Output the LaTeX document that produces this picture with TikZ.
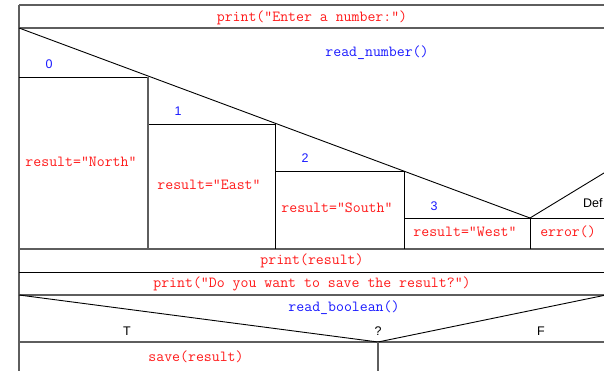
\documentclass[tikz,border=0pt]{standalone}
\usepackage{fontspec}
\setmainfont{Liberation Sans}
\newfontfamily\codefont{Latin Modern Mono}
\definecolor{frame}{HTML}{5E5E5E}
\definecolor{codered}{HTML}{FF1A1A}
\definecolor{codeblue}{HTML}{1A1AFF}
\tikzset{
  heavy/.style={draw=frame, line width=1.4pt},
  thin/.style={draw=black, line width=0.9pt},
  cmd/.style={font=\codefont\fontsize{15.4}{16}\selectfont, text=codered, inner sep=0pt, text height=0.68em, text depth=0.18em, yshift=-2pt},
  call/.style={cmd, text=codeblue},
  caselbl/.style={font=\fontsize{12.5}{14}\selectfont, text=codeblue, inner sep=0pt, text height=0.72em, text depth=0pt, yshift=-1pt},
  branchlbl/.style={font=\fontsize{12.5}{14}\selectfont, text=black, inner sep=0pt, text height=0.72em, text depth=0pt, yshift=-1.5pt},
}
\begin{document}
\begin{tikzpicture}[x=1pt, y=-1pt]
\useasboundingbox (0,0) rectangle (604,371);
\fill[white] (0,0) rectangle (604,371);
\begin{scope}
\clip (0,0) rectangle (604,371);
% outer frame and row separators
\draw[heavy] (19,5) -- (640,5);
\draw[heavy] (19,5) -- (19,380);
\draw[heavy] (19,28) -- (640,28);
\draw[heavy] (19,249) -- (640,249);
\draw[thin] (19,272) -- (640,272);
\draw[heavy] (19,295) -- (640,295);
\draw[heavy] (19,342) -- (640,342);

% case header: diagonal and the default slope
\draw[thin] (19,28) -- (530,218);
\draw[thin] (530,218) -- (650,145);

% case columns
\draw[thin] (19,77) -- (148,77);
\draw[thin] (148,124) -- (275,124);
\draw[thin] (275,171) -- (404,171);
\draw[thin] (404,218) -- (640,218);
\draw[heavy] (148,77) -- (148,249);
\draw[thin] (275,124) -- (275,249);
\draw[thin] (404,171) -- (404,249);
\draw[thin] (530,218) -- (530,249);

% if header
\draw[thin] (19,295) -- (378,342) -- (640,288);
\draw[heavy] (378,342) -- (378,380);

% texts
\node[cmd] (enter) at (312,17) {print("Enter a number:")};
\node[call] (readnum) at (377,52) {read\_number()};
\node[caselbl] (c0) at (49,64) {0};
\node[caselbl] (c1) at (178,111) {1};
\node[caselbl] (c2) at (305,158) {2};
\node[caselbl] (c3) at (434,206) {3};
\node[branchlbl, anchor=west] (cdef) at (583,202) {Def};
\node[cmd] (north) at (81,162) {result="North"};
\node[cmd] (east) at (209,185) {result="East"};
\node[cmd] (south) at (337,208) {result="South"};
\node[cmd] (west) at (465,232) {result="West"};
\node[cmd] (err) at (568,232) {error()};
\node[cmd] (printres) at (312,260) {print(result)};
\node[cmd] (ask) at (312,283) {print("Do you want to save the result?")};
\node[call] (readbool) at (344,307) {read\_boolean()};
\node[branchlbl] (tlbl) at (127,330) {T};
\node[branchlbl] (qlbl) at (378,330) {?};
\node[branchlbl] (flbl) at (541,330) {F};
\node[cmd] (save) at (196,357) {save(result)};
\end{scope}
\end{tikzpicture}
\end{document}
